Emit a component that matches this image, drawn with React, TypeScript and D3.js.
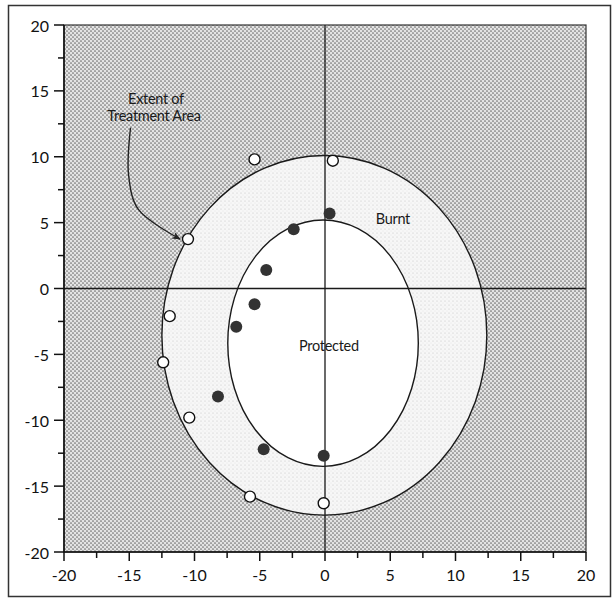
import React from "react";
import * as d3 from "d3";

// ---- data ----
const xTicks = [-20, -15, -10, -5, 0, 5, 10, 15, 20];
const yTicks = [-20, -15, -10, -5, 0, 5, 10, 15, 20];
const minorTicks = [-17.5, -12.5, -7.5, -2.5, 2.5, 7.5, 12.5, 17.5];

// treatment-area edge (open circles)
const openX = [-5.4, 0.6, -10.5, -11.9, -12.4, -10.4, -5.75, -0.1];
const openY = [9.8, 9.7, 3.75, -2.1, -5.6, -9.8, -15.8, -16.3];
// protected edge (filled circles)
const filledX = [0.35, -2.4, -4.5, -5.4, -6.8, -8.2, -4.7, -0.1];
const filledY = [5.7, 4.5, 1.4, -1.2, -2.9, -8.2, -12.2, -12.7];

// ellipses: [cx, cy, rx, ry]
const outerEllipse = [-0.05, -3.55, 12.45, 13.65];
const innerEllipse = [-0.15, -4.15, 7.3, 9.35];

// annotation arrow (data units)
const arrowPts: [number, number][] = [
  [-14.9, 12.2],
  [-15.05, 8.6],
  [-14.3, 6.0],
  [-11.1, 3.75],
];
const labels = [
  { text: "Extent of", x: -12.95, y: 14.45 },
  { text: "Treatment Area", x: -13.1, y: 13.15 },
  { text: "Burnt", x: 5.2, y: 5.35 },
  { text: "Protected", x: 0.3, y: -4.3 },
];

const FONT = "Lato, 'Open Sans', sans-serif";

export default function App() {
  const x = d3.scaleLinear().domain([-20, 20]).range([64, 586]);
  const y = d3.scaleLinear().domain([-20, 20]).range([552, 25]);
  const line = d3
    .line<[number, number]>()
    .x((d) => x(d[0]))
    .y((d) => y(d[1]))
    .curve(d3.curveCatmullRom);

  const ell = (e: number[]) => ({
    cx: x(e[0]),
    cy: y(e[1]),
    rx: x(e[2]) - x(0),
    ry: y(0) - y(e[3]),
  });
  const oe = ell(outerEllipse);
  const ie = ell(innerEllipse);

  return (
    <svg
      width={612}
      height={599}
      style={{ position: "absolute", left: 0, top: 0, background: "#fff" }}
    >
      <defs>
        <pattern id="dense" width={4} height={4} patternUnits="userSpaceOnUse">
          <rect width={4} height={4} fill="#e4e4e4" />
          <circle cx={1} cy={1} r={0.85} fill="#6e6e6e" />
          <circle cx={3} cy={3} r={0.85} fill="#6e6e6e" />
        </pattern>
        <pattern id="light" width={4} height={4} patternUnits="userSpaceOnUse">
          <rect width={4} height={4} fill="#f7f7f7" />
          <circle cx={1} cy={1} r={0.5} fill="#b8b8b8" />
          <circle cx={3} cy={3} r={0.4} fill="#cfcfcf" />
        </pattern>
        <clipPath id="plot">
          <rect x={x(-20)} y={y(20)} width={x(20) - x(-20)} height={y(-20) - y(20)} />
        </clipPath>
        <marker
          id="arrow"
          viewBox="0 0 10 10"
          refX={9}
          refY={5}
          markerWidth={9}
          markerHeight={9}
          orient="auto"
          markerUnits="userSpaceOnUse"
        >
          <path d="M0,1 L10,5 L0,9 L3,5 Z" fill="#222" />
        </marker>
      </defs>

      {/* outer frame */}
      <rect x={8.5} y={5.5} width={602} height={591} fill="none" stroke="#333" strokeWidth={1.5} />

      <g clipPath="url(#plot)">
        <rect x={x(-20)} y={y(20)} width={x(20) - x(-20)} height={y(-20) - y(20)} fill="url(#dense)" />
        <ellipse cx={oe.cx} cy={oe.cy} rx={oe.rx} ry={oe.ry} fill="url(#light)" stroke="#1a1a1a" strokeWidth={1.4} />
        <ellipse cx={ie.cx} cy={ie.cy} rx={ie.rx} ry={ie.ry} fill="#fff" stroke="#1a1a1a" strokeWidth={1.4} />
        <line x1={x(0)} x2={x(0)} y1={y(20)} y2={y(-20)} stroke="#1a1a1a" strokeWidth={1.3} />
        <line x1={x(-20)} x2={x(20)} y1={y(0)} y2={y(0)} stroke="#1a1a1a" strokeWidth={1.3} />
      </g>

      {/* plot border */}
      <rect
        x={x(-20)}
        y={y(20)}
        width={x(20) - x(-20)}
        height={y(-20) - y(20)}
        fill="none"
        stroke="#333"
        strokeWidth={1.2}
      />
      <line x1={x(-20)} x2={x(-20)} y1={y(20)} y2={y(-20)} stroke="#111" strokeWidth={1.6} />
      <line x1={x(-20)} x2={x(20)} y1={y(-20)} y2={y(-20)} stroke="#111" strokeWidth={1.6} />

      {/* y axis ticks */}
      {yTicks.map((t) => (
        <g key={"y" + t}>
          <line x1={x(-20) - 10} x2={x(-20)} y1={y(t)} y2={y(t)} stroke="#111" strokeWidth={1.5} />
          <text
            x={x(-20) - 15}
            y={y(t)}
            textAnchor="end"
            dominantBaseline="central"
            fontFamily={FONT}
            fontSize={16}
            fill="#111"
          >
            {t}
          </text>
        </g>
      ))}
      {minorTicks.map((t) => (
        <line key={"ym" + t} x1={x(-20) - 6} x2={x(-20)} y1={y(t)} y2={y(t)} stroke="#111" strokeWidth={1.5} />
      ))}
      {/* x axis ticks */}
      {xTicks.map((t) => (
        <g key={"x" + t}>
          <line x1={x(t)} x2={x(t)} y1={y(-20)} y2={y(-20) + 9} stroke="#111" strokeWidth={1.5} />
          <text
            x={x(t)}
            y={y(-20) + 22}
            textAnchor="middle"
            dominantBaseline="central"
            fontFamily={FONT}
            fontSize={16}
            fill="#111"
          >
            {t}
          </text>
        </g>
      ))}
      {minorTicks.map((t) => (
        <line key={"xm" + t} x1={x(t)} x2={x(t)} y1={y(-20)} y2={y(-20) + 6} stroke="#111" strokeWidth={1.5} />
      ))}

      {/* annotation arrow */}
      <path d={line(arrowPts) || ""} fill="none" stroke="#222" strokeWidth={1.4} markerEnd="url(#arrow)" />

      {/* points */}
      {openX.map((v, i) => (
        <circle key={"o" + i} cx={x(v)} cy={y(openY[i])} r={5.5} fill="#fff" stroke="#111" strokeWidth={1.4} />
      ))}
      {filledX.map((v, i) => (
        <circle key={"f" + i} cx={x(v)} cy={y(filledY[i])} r={6} fill="#333" />
      ))}

      {labels.map((l) => (
        <text
          key={l.text}
          x={x(l.x)}
          y={y(l.y)}
          textAnchor="middle"
          dominantBaseline="central"
          fontFamily={FONT}
          fontSize={14.5}
          fill="#1a1a1a"
          letterSpacing={-0.3}
        >
          {l.text}
        </text>
      ))}
    </svg>
  );
}
